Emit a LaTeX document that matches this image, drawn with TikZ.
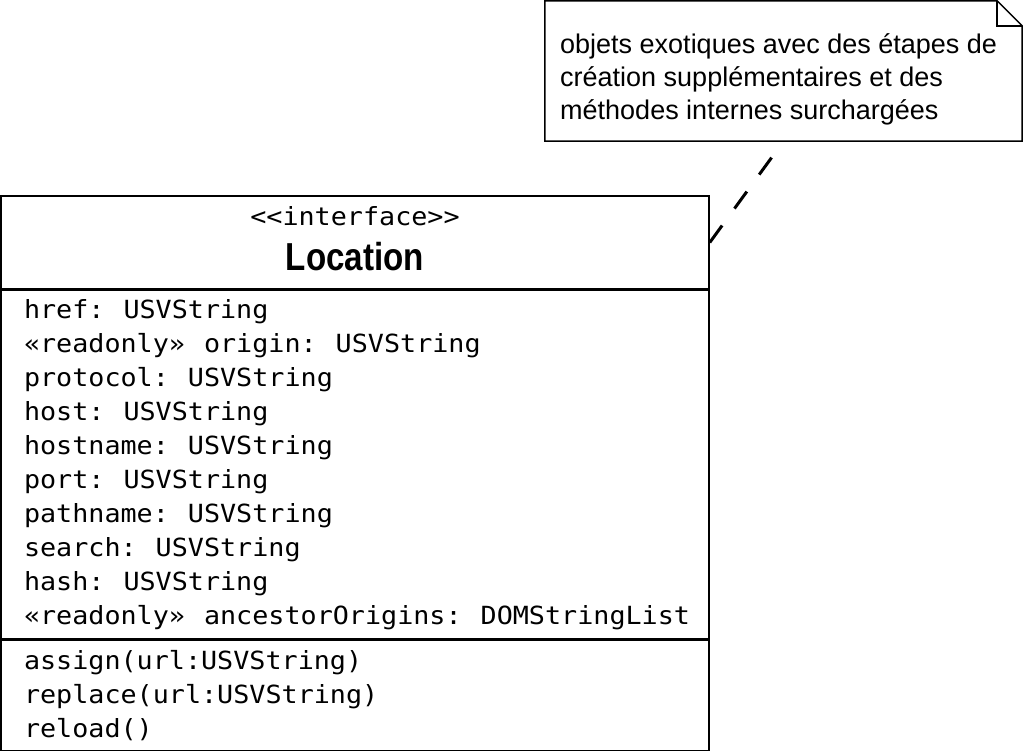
\documentclass[tikz,border=0pt]{standalone}
\usepackage{fontspec}
\setmainfont{Liberation Sans}
\setmonofont{DejaVu Sans Mono}[FakeStretch=1.07]
\newfontfamily\titlefont{Liberation Sans}[FakeStretch=0.85]
\newcommand\umlfont{\ttfamily\fontsize{25}{34}\selectfont\hbadness=10000\hfuzz=20pt}
\newcommand\umlsp{\nobreak\hspace{19pt}}

\tikzset{
	compartment/.style={draw, line width=1.5pt, rectangle, minimum width=708pt, inner xsep=23pt, inner ysep=0pt, text width=662pt, align=left, font=\umlfont},
	umltext/.style={inner sep=0pt, font=\umlfont},
}

\begin{document}
\begin{tikzpicture}[x=1pt, y=-1pt]
			\useasboundingbox (0,0) rectangle (1024,750);

			\node (head)[compartment, minimum height=93pt] at (355,242.5) {};
			\node (stereo)[umltext, anchor=base] at (355,225) {<<interface>>};
			\node (name)[inner sep=0pt, anchor=base, font=\titlefont\bfseries\fontsize{39}{40}\selectfont] at (355,270.5) {Location};

			\node (attrs)[compartment, minimum height=348pt, anchor=north west] at (head.south west) {href:\umlsp USVString\\
				«readonly»\umlsp origin:\umlsp USVString\\
				protocol:\umlsp USVString\\
				host:\umlsp USVString\\
				hostname:\umlsp USVString\\
				port:\umlsp USVString\\
				pathname:\umlsp USVString\\
				search:\umlsp USVString\\
				hash:\umlsp USVString\\
				«readonly»\umlsp ancestorOrigins:\umlsp DOMStringList};
			\node (ops)[compartment, minimum height=111pt, anchor=north west] at (attrs.south west) {assign(url:USVString)\\
				replace(url:USVString)\\
				reload()};

			\node (note)[minimum width=477pt, minimum height=140pt, inner sep=0pt] at (783.5,71) {};
			\draw [line width=1.5pt] (note.north west) -- ([xshift=-25pt]note.north east) -- ([yshift=-25pt]note.north east) -- (note.south east) -- (note.south west) -- cycle;
			\draw [line width=1.5pt] ([xshift=-25pt]note.north east) |- ([yshift=-25pt]note.north east);
			\node (notetext)[inner sep=0pt, anchor=north west, align=left, font=\fontsize{27}{33}\selectfont] at (560,33) {objets exotiques avec des étapes de\\
				création supplémentaires et des\\
				méthodes internes surchargées};

			\coordinate (tip) at (772,157);
			\draw [line width=3pt, dash pattern=on 21pt off 21pt](head.east)--(tip);
		\end{tikzpicture}
\end{document}
